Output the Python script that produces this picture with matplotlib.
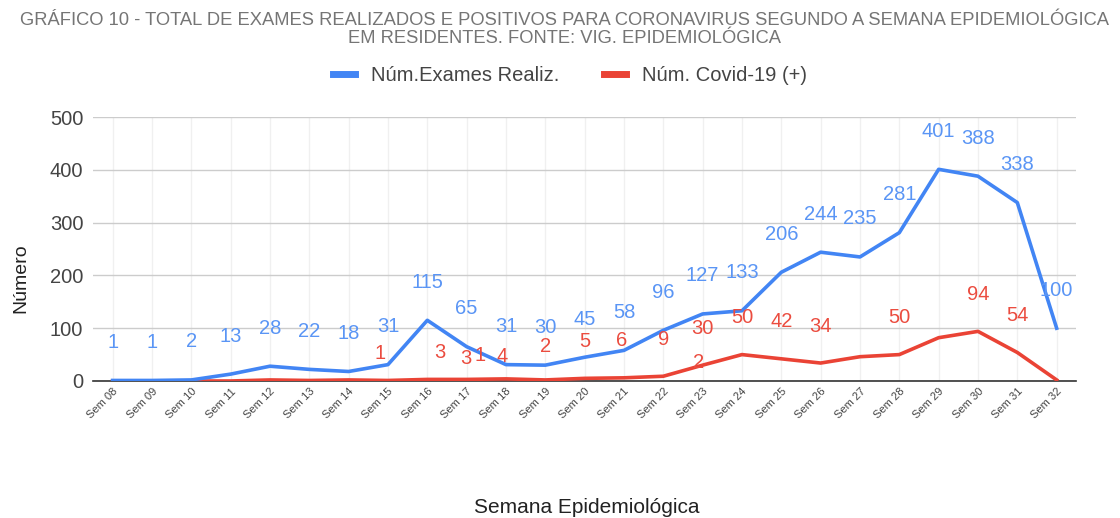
import matplotlib
matplotlib.use("Agg")
import matplotlib.pyplot as plt

plt.rcParams['font.family'] = ['Liberation Sans', 'DejaVu Sans']

semanas = ["Sem 08", "Sem 09", "Sem 10", "Sem 11", "Sem 12", "Sem 13", "Sem 14",
           "Sem 15", "Sem 16", "Sem 17", "Sem 18", "Sem 19", "Sem 20", "Sem 21",
           "Sem 22", "Sem 23", "Sem 24", "Sem 25", "Sem 26", "Sem 27", "Sem 28",
           "Sem 29", "Sem 30", "Sem 31", "Sem 32"]
exames = [1, 1, 2, 13, 28, 22, 18, 31, 115, 65, 31, 30, 45, 58, 96, 127, 133,
          206, 244, 235, 281, 401, 388, 338, 100]
covid = [0, 0, 0, 0, 2, 1, 2, 1, 3, 3, 4, 2, 5, 6, 9, 30, 50, 42, 34, 46, 50,
         82, 94, 54, 2]
# red labels as the original chart placed them: (week index, text, dx px, dy px)
covid_labels = [(7, "1", -8, 27), (8, "3", 13, 27), (9, "3", -1, 21),
                (9, "1", 13, 24), (10, "4", -4, 22), (11, "2", 0, 33),
                (12, "5", 0, 37), (13, "6", -2, 37), (14, "9", 0, 37),
                (15, "30", 0, 37), (15, "2", -4, 3), (16, "50", 0, 37),
                (17, "42", 0, 37), (18, "34", 0, 37), (20, "50", 0, 37),
                (22, "94", 0, 37), (23, "54", 0, 37)]

azul = "#4285F4"
vermelho = "#EA4335"
x = list(range(len(semanas)))

fig = plt.figure(figsize=(11.2, 5.18), dpi=100)
ax = fig.add_axes([0.083, 0.2645, 0.878, 0.5095])

ax.plot(x, exames, color=azul, lw=2.6, label="Núm.Exames Realiz.", zorder=4)
ax.plot(x, covid, color=vermelho, lw=2.6, label="Núm. Covid-19 (+)", zorder=3)

for i, v in enumerate(exames):
    ax.annotate(str(v), (i, v), xytext=(0, 38), textcoords="offset pixels",
                ha="center", va="center", color="#5a95f5", fontsize=14.5,
                zorder=5, annotation_clip=False)
for i, t, dx, dy in covid_labels:
    ax.annotate(t, (i, covid[i]), xytext=(dx, dy), textcoords="offset pixels",
                ha="center", va="center", color="#eb4c3f", fontsize=14.5,
                zorder=5, annotation_clip=False)

ax.set_xlim(-0.5, len(semanas) - 0.5)
ax.set_ylim(0, 500)
ax.set_yticks([0, 100, 200, 300, 400, 500])
ax.set_xticks(x)
ax.set_xticklabels(semanas, rotation=45, ha="right", rotation_mode="anchor",
                   fontsize=8, color="#444444")
ax.tick_params(axis="y", labelsize=14.5, labelcolor="#444444", length=0, pad=7)
ax.tick_params(axis="x", length=0, pad=4)
ax.grid(axis="y", color="#cccccc", lw=1)
for i in x:
    ax.axvline(i, color="#f0f0f0", lw=1, zorder=0)
ax.set_axisbelow(True)
for s in ["top", "right", "left"]:
    ax.spines[s].set_visible(False)
ax.spines["bottom"].set_color("#333333")
ax.spines["bottom"].set_linewidth(1.2)

fig.text(0.019, 1 - 278 / 518, "Número", rotation=90, ha="center", va="center",
         fontsize=14, color="#222222")
fig.text(0.524, 0.021, "Semana Epidemiológica", ha="center", va="center",
         fontsize=15, color="#222222")

fig.text(0.504, 0.943, "GRÁFICO 10 - TOTAL DE EXAMES REALIZADOS E POSITIVOS PARA CORONAVIRUS SEGUNDO A SEMANA EPIDEMIOLÓGICA\nEM RESIDENTES. FONTE: VIG. EPIDEMIOLÓGICA",
         ha="center", va="center", fontsize=13.2, color="#757575", linespacing=1.1)

leg = fig.legend(loc="center", bbox_to_anchor=(0.509, 0.855), ncol=2, frameon=False,
                 fontsize=14.5, handlelength=1.1, handletextpad=0.8,
                 columnspacing=2.2, labelcolor="#444444")
for h in leg.get_lines():
    h.set_linewidth(5)

fig.savefig("out.png", dpi=100)
